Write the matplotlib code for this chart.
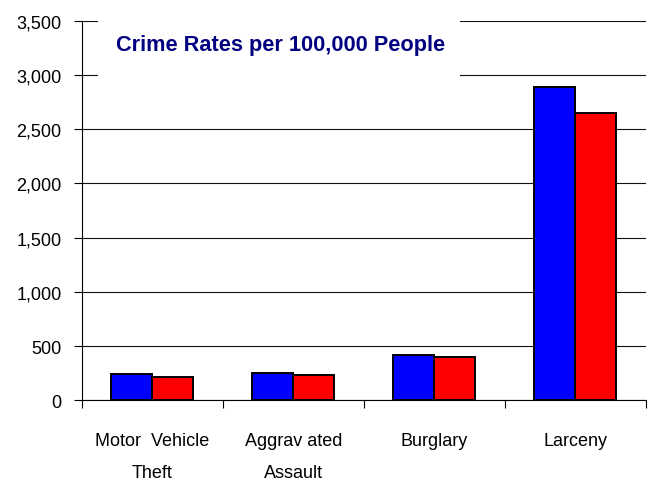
import numpy as np
import matplotlib
matplotlib.use("Agg")
import matplotlib.pyplot as plt
from matplotlib.patches import Rectangle

categories = ["Motor  Vehicle\nTheft", "Aggrav ated\nAssault", "Burglary", "Larceny"]
series_a = [240, 255, 420, 2890]   # blue
series_b = [215, 235, 395, 2650]   # red
yticks = [0, 500, 1000, 1500, 2000, 2500, 3000, 3500]
title = "Crime Rates per 100,000 People"

plt.rcParams['font.family'] = ['Liberation Sans', 'DejaVu Sans']

fig = plt.figure(figsize=(6.53, 4.81), dpi=100)
ax = fig.add_axes([81.7/653, 79.7/481, 564/653, 379.6/481])

x = np.arange(len(categories)) + 0.5
w = 0.29
ax.bar(x - w/2, series_a, w, color='#0000FF', edgecolor='black', linewidth=1.4, zorder=3)
ax.bar(x + w/2, series_b, w, color='#FF0000', edgecolor='black', linewidth=1.4, zorder=3)

ax.set_xlim(0, len(categories))
ax.set_ylim(0, 3500)
ax.set_yticks(yticks)
ax.set_yticklabels(['{:,}'.format(v) for v in yticks], fontsize=13)
ax.yaxis.grid(True, color='#111111', linewidth=0.8, zorder=1)
ax.set_axisbelow(True)

ax.set_xticks(np.arange(len(categories) + 1))
ax.set_xticklabels([])
ax.set_xticks(x, minor=True)
ax.set_xticklabels(categories, minor=True, fontsize=13, linespacing=2.1, va='top')
ax.tick_params(axis='x', which='major', direction='out', length=6, width=0.8)
ax.tick_params(axis='x', which='minor', length=0, pad=23)
ax.tick_params(axis='y', direction='out', length=6, width=0.8, pad=8.5)

for s in ['top', 'right']:
    ax.spines[s].set_visible(False)
ax.spines['left'].set_linewidth(0.8)
ax.spines['bottom'].set_linewidth(0.8)

# white box behind the title, hiding the top gridlines
ax.add_patch(Rectangle((16.3/564, 0.833), (460 - 98)/564, 0.2, transform=ax.transAxes,
                       facecolor='white', edgecolor='none', zorder=2, clip_on=False))
ax.text(34.3/564, 0.9386, title, transform=ax.transAxes, fontsize=15.7, fontweight='bold',
        color='#000080', va='center', ha='left', zorder=4)

fig.savefig('out.png', dpi=100)
